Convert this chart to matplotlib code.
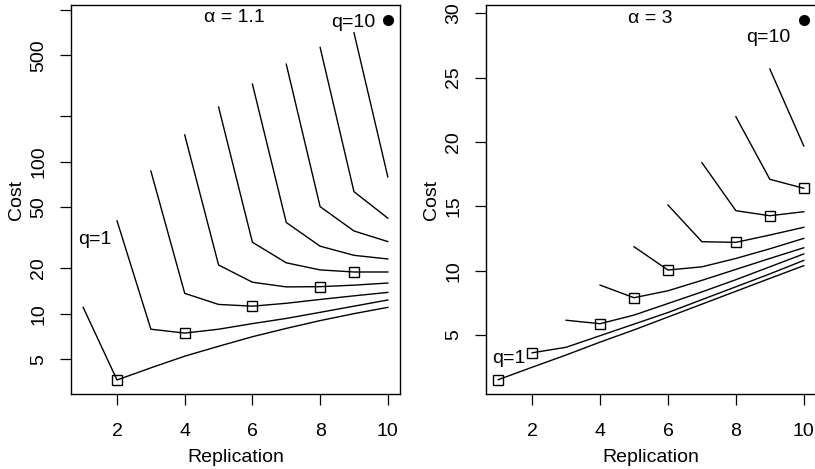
"""Cost vs replication for two values of alpha (R base-graphics look)."""

import matplotlib

matplotlib.use("Agg")
import matplotlib.pyplot as plt

plt.rcParams["font.family"] = ["Liberation Sans", "DejaVu Sans"]
plt.rcParams["font.size"] = 14

replication = [1, 2, 3, 4, 5, 6, 7, 8, 9, 10]

# alpha = 1.1: curve q starts at replication q
cost_a11 = [
    [11.0, 3.66, 4.4, 5.25, 6.1, 7.05, 8.0, 9.0, 10.0, 11.0],
    [40.8, 7.9, 7.45, 7.9, 8.6, 9.3, 10.2, 11.2, 12.3],
    [86.8, 13.6, 11.5, 11.2, 11.7, 12.4, 13.1, 13.8],
    [150, 20.9, 16.1, 15.0, 15.05, 15.4, 15.9],
    [229, 29.5, 21.6, 19.4, 18.8, 18.8],
    [324, 39.8, 27.8, 24.2, 22.9],
    [438, 50.6, 35.0, 29.8],
    [565, 63.5, 42.5],
    [706, 79.5],
    [855],
]
best_rep_a11 = [2, 4, 6, 8, 9]  # squares for q = 1..5

# alpha = 3
cost_a3 = [
    [1.53, 2.5, 3.45, 4.45, 5.4, 6.4, 7.4, 8.4, 9.4, 10.39],
    [3.62, 4.05, 4.95, 5.85, 6.75, 7.75, 8.75, 9.75, 10.8],
    [6.15, 5.88, 6.55, 7.45, 8.35, 9.3, 10.3, 11.3],
    [8.88, 7.9, 8.44, 9.25, 10.1, 10.95, 11.78],
    [11.86, 10.05, 10.3, 10.95, 11.7, 12.51],
    [15.1, 12.25, 12.2, 12.77, 13.37],
    [18.39, 14.66, 14.27, 14.58],
    [21.96, 17.1, 16.4],
    [25.67, 19.69],
    [29.48],
]
best_rep_a3 = [1, 2, 4, 5, 6, 8, 9, 10]  # squares for q = 1..8

yticks_a11 = [5, 10, 20, 50, 100, 200, 500, 1000]
ytick_labels_a11 = ["5", "10", "20", "50", "100", "", "500", ""]
yticks_a3 = [5, 10, 15, 20, 25, 30]
xticks = [2, 4, 6, 8, 10]


def draw_panel(ax, costs, best_reps, title, title_y, q1_xy, q10_xy):
    n = len(costs)
    for q, cost in enumerate(costs, start=1):
        xs = replication[q - 1:]
        if q < n:
            ax.plot(xs, cost, color="black", linewidth=1.0)
    for q, rep in enumerate(best_reps, start=1):
        y = costs[q - 1][rep - q]
        ax.plot(rep, y, marker="s", markersize=6.5, markerfacecolor="none",
                markeredgecolor="black", markeredgewidth=1.0, linestyle="none")
    ax.plot(replication[-1], costs[-1][0], marker="o", markersize=7,
            color="black", linestyle="none")
    ax.text(5.47, title_y, title, ha="center", va="center")
    ax.text(*q1_xy, "q=1", ha="center", va="center")
    ax.text(*q10_xy, "q=10", ha="center", va="center")
    ax.set_xlim(0.64, 10.36)
    ax.set_xticks(xticks)
    ax.set_xlabel("Replication", labelpad=6)
    ax.set_ylabel("Cost", labelpad=4)
    ax.tick_params(length=8, width=0.9, pad=13)
    ax.tick_params(axis="y", labelrotation=90, pad=9)
    for sp in ax.spines.values():
        sp.set_linewidth(1.0)


fig = plt.figure(figsize=(8.15, 4.69), dpi=100)
ax1 = fig.add_axes([71 / 815, 75 / 469, 329 / 815, 389 / 469])
ax2 = fig.add_axes([486 / 815, 75 / 469, 330 / 815, 389 / 469])

ax1.set_yscale("log")
ax1.set_ylim(2.96, 1074)
draw_panel(ax1, cost_a11, best_rep_a11, "α = 1.1", 883, (1.35, 30.6), (8.97, 820))
ax1.set_yticks(yticks_a11)
ax1.set_yticklabels(ytick_labels_a11)
ax1.minorticks_off()
for lbl in ax1.get_yticklabels():
    lbl.set_va("center")

ax2.set_ylim(0.42, 30.64)
draw_panel(ax2, cost_a3, best_rep_a3, "α = 3", 29.6, (1.3, 3.2), (8.94, 28.1))
ax2.set_yticks(yticks_a3)
for lbl in ax2.get_yticklabels():
    lbl.set_va("center")

fig.savefig("out.png", dpi=100)
plt.close(fig)
